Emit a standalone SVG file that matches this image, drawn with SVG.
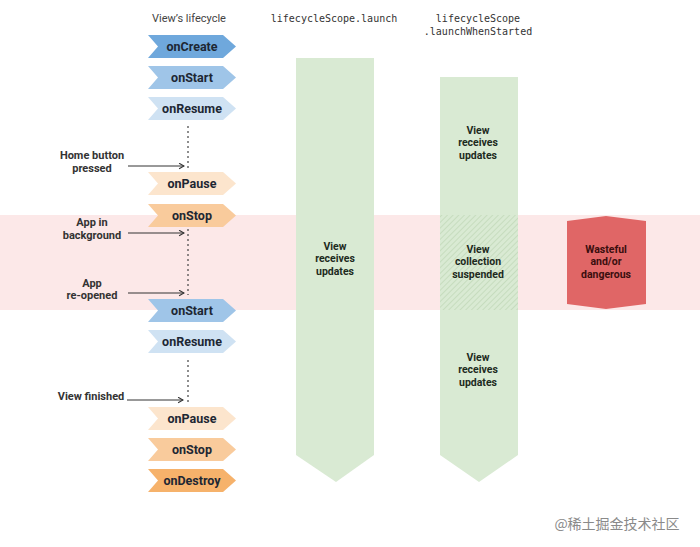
<svg xmlns="http://www.w3.org/2000/svg" width="700" height="547" viewBox="0 0 700 547">
<defs>
<style>
.hdr{font-family:"Roboto","Liberation Sans",sans-serif;font-size:11px;fill:#444;text-anchor:middle}
.mono{font-family:"DejaVu Sans Mono","Liberation Mono",monospace;font-size:10px;fill:#333;text-anchor:middle}
.chev text{font-family:"Roboto","Liberation Sans",sans-serif;font-size:12.5px;font-weight:bold;fill:#1d2733;text-anchor:middle}
.lbl{font-family:"Roboto","Liberation Sans",sans-serif;font-size:11px;font-weight:bold;fill:#333;text-anchor:middle}
.col{font-family:"Roboto","Liberation Sans",sans-serif;font-size:10.5px;font-weight:bold;fill:#1d2a1d;text-anchor:middle}
.dot{stroke:#444;stroke-width:1.2;stroke-dasharray:2 3;fill:none}
.arr{stroke:#333;stroke-width:1;fill:none;marker-end:url(#ah)}
</style>
<marker id="ah" viewBox="0 0 10 10" refX="9" refY="5" markerWidth="7" markerHeight="7" orient="auto" markerUnits="userSpaceOnUse">
<path d="M2,1 L9,5 L2,9" fill="none" stroke="#333" stroke-width="1.5"/>
</marker>
<pattern id="hatch" width="4" height="4" patternUnits="userSpaceOnUse" patternTransform="rotate(45)">
<rect width="4" height="4" fill="#d9ead3"/>
<line x1="0" y1="0" x2="0" y2="4" stroke="#b9d3b1" stroke-width="1.2"/>
</pattern>
</defs>
<rect width="700" height="547" fill="#ffffff"/>
<rect id="band" x="0" y="215" width="700" height="95" fill="#fce8e8"/>

<text class="hdr" x="189" y="22">View’s lifecycle</text>
<text class="mono" x="334" y="22">lifecycleScope.launch</text>
<text class="mono" x="478" y="22">lifecycleScope</text>
<text class="mono" x="478" y="35">.launchWhenStarted</text>

<g id="col-launch">
<path d="M296,58 L374,58 L374,455 L336,482 L296,455 Z" fill="#d9ead3"/>
<text class="col" x="335" y="250">View</text>
<text class="col" x="335" y="262">receives</text>
<text class="col" x="335" y="275">updates</text>
</g>

<g id="col-when-started">
<path d="M440,77 L518,77 L518,455 L479,482 L440,455 Z" fill="#d9ead3"/>
<rect x="440" y="215" width="78" height="95" fill="url(#hatch)"/>
<text class="col" x="478" y="134">View</text>
<text class="col" x="478" y="146">receives</text>
<text class="col" x="478" y="159">updates</text>
<text class="col" x="478" y="253">View</text>
<text class="col" x="478" y="265">collection</text>
<text class="col" x="478" y="278">suspended</text>
<text class="col" x="478" y="361">View</text>
<text class="col" x="478" y="373">receives</text>
<text class="col" x="478" y="386">updates</text>
</g>

<g id="wasteful">
<path d="M567,221 L606,216 L646,221 L646,304 L606,309 L567,304 Z" fill="#e06666"/>
<text class="col" x="606" y="253" style="fill:#3a0e0e">Wasteful</text>
<text class="col" x="606" y="265" style="fill:#3a0e0e">and/or</text>
<text class="col" x="606" y="278" style="fill:#3a0e0e">dangerous</text>
</g>

<g id="onCreate" class="chev"><path d="M148,35 L223,35 L236,46.5 L223,58 L148,58 L158,46.5 Z" fill="#6fa8dc"/><text x="192" y="51">onCreate</text></g>
<g id="onStart1" class="chev"><path d="M148,66 L223,66 L236,77.5 L223,89 L148,89 L158,77.5 Z" fill="#9fc5e8"/><text x="192" y="82">onStart</text></g>
<g id="onResume1" class="chev"><path d="M148,97 L223,97 L236,108.5 L223,120 L148,120 L158,108.5 Z" fill="#cfe2f3"/><text x="192" y="113">onResume</text></g>
<g id="onPause1" class="chev"><path d="M148,172 L223,172 L236,183.5 L223,195 L148,195 L158,183.5 Z" fill="#fce5cd"/><text x="192" y="188">onPause</text></g>
<g id="onStop1" class="chev"><path d="M148,204 L223,204 L236,215.5 L223,227 L148,227 L158,215.5 Z" fill="#f9cb9c"/><text x="192" y="220">onStop</text></g>
<g id="onStart2" class="chev"><path d="M148,299 L223,299 L236,310.5 L223,322 L148,322 L158,310.5 Z" fill="#9fc5e8"/><text x="192" y="315">onStart</text></g>
<g id="onResume2" class="chev"><path d="M148,330 L223,330 L236,341.5 L223,353 L148,353 L158,341.5 Z" fill="#cfe2f3"/><text x="192" y="346">onResume</text></g>
<g id="onPause2" class="chev"><path d="M148,407 L223,407 L236,418.5 L223,430 L148,430 L158,418.5 Z" fill="#fce5cd"/><text x="192" y="423">onPause</text></g>
<g id="onStop2" class="chev"><path d="M148,438 L223,438 L236,449.5 L223,461 L148,461 L158,449.5 Z" fill="#f9cb9c"/><text x="192" y="454">onStop</text></g>
<g id="onDestroy" class="chev"><path d="M148,469 L223,469 L236,480.5 L223,492 L148,492 L158,480.5 Z" fill="#f6b26b"/><text x="192" y="485">onDestroy</text></g>

<g id="labels">
<text class="lbl" x="92" y="159">Home button</text>
<text class="lbl" x="92" y="172">pressed</text>
<text class="lbl" x="92" y="226">App in</text>
<text class="lbl" x="92" y="239">background</text>
<text class="lbl" x="92" y="287">App</text>
<text class="lbl" x="92" y="299">re-opened</text>
<text class="lbl" x="91" y="400">View finished</text>
</g>

<g id="connectors">
<line class="dot" x1="188" y1="126" x2="188" y2="168"/>
<line class="dot" x1="188" y1="229" x2="188" y2="295"/>
<line class="dot" x1="188" y1="360" x2="188" y2="402"/>
<line class="arr" x1="128" y1="166" x2="184" y2="166"/>
<line class="arr" x1="128" y1="233" x2="184" y2="233"/>
<line class="arr" x1="128" y1="293" x2="184" y2="293"/>
<line class="arr" x1="127" y1="400" x2="183" y2="400"/>
</g>

<text x="617" y="529" font-family="'Noto Sans CJK SC',sans-serif" font-size="14" fill="#8a8a8a" text-anchor="middle">@稀土掘金技术社区</text>
</svg>
